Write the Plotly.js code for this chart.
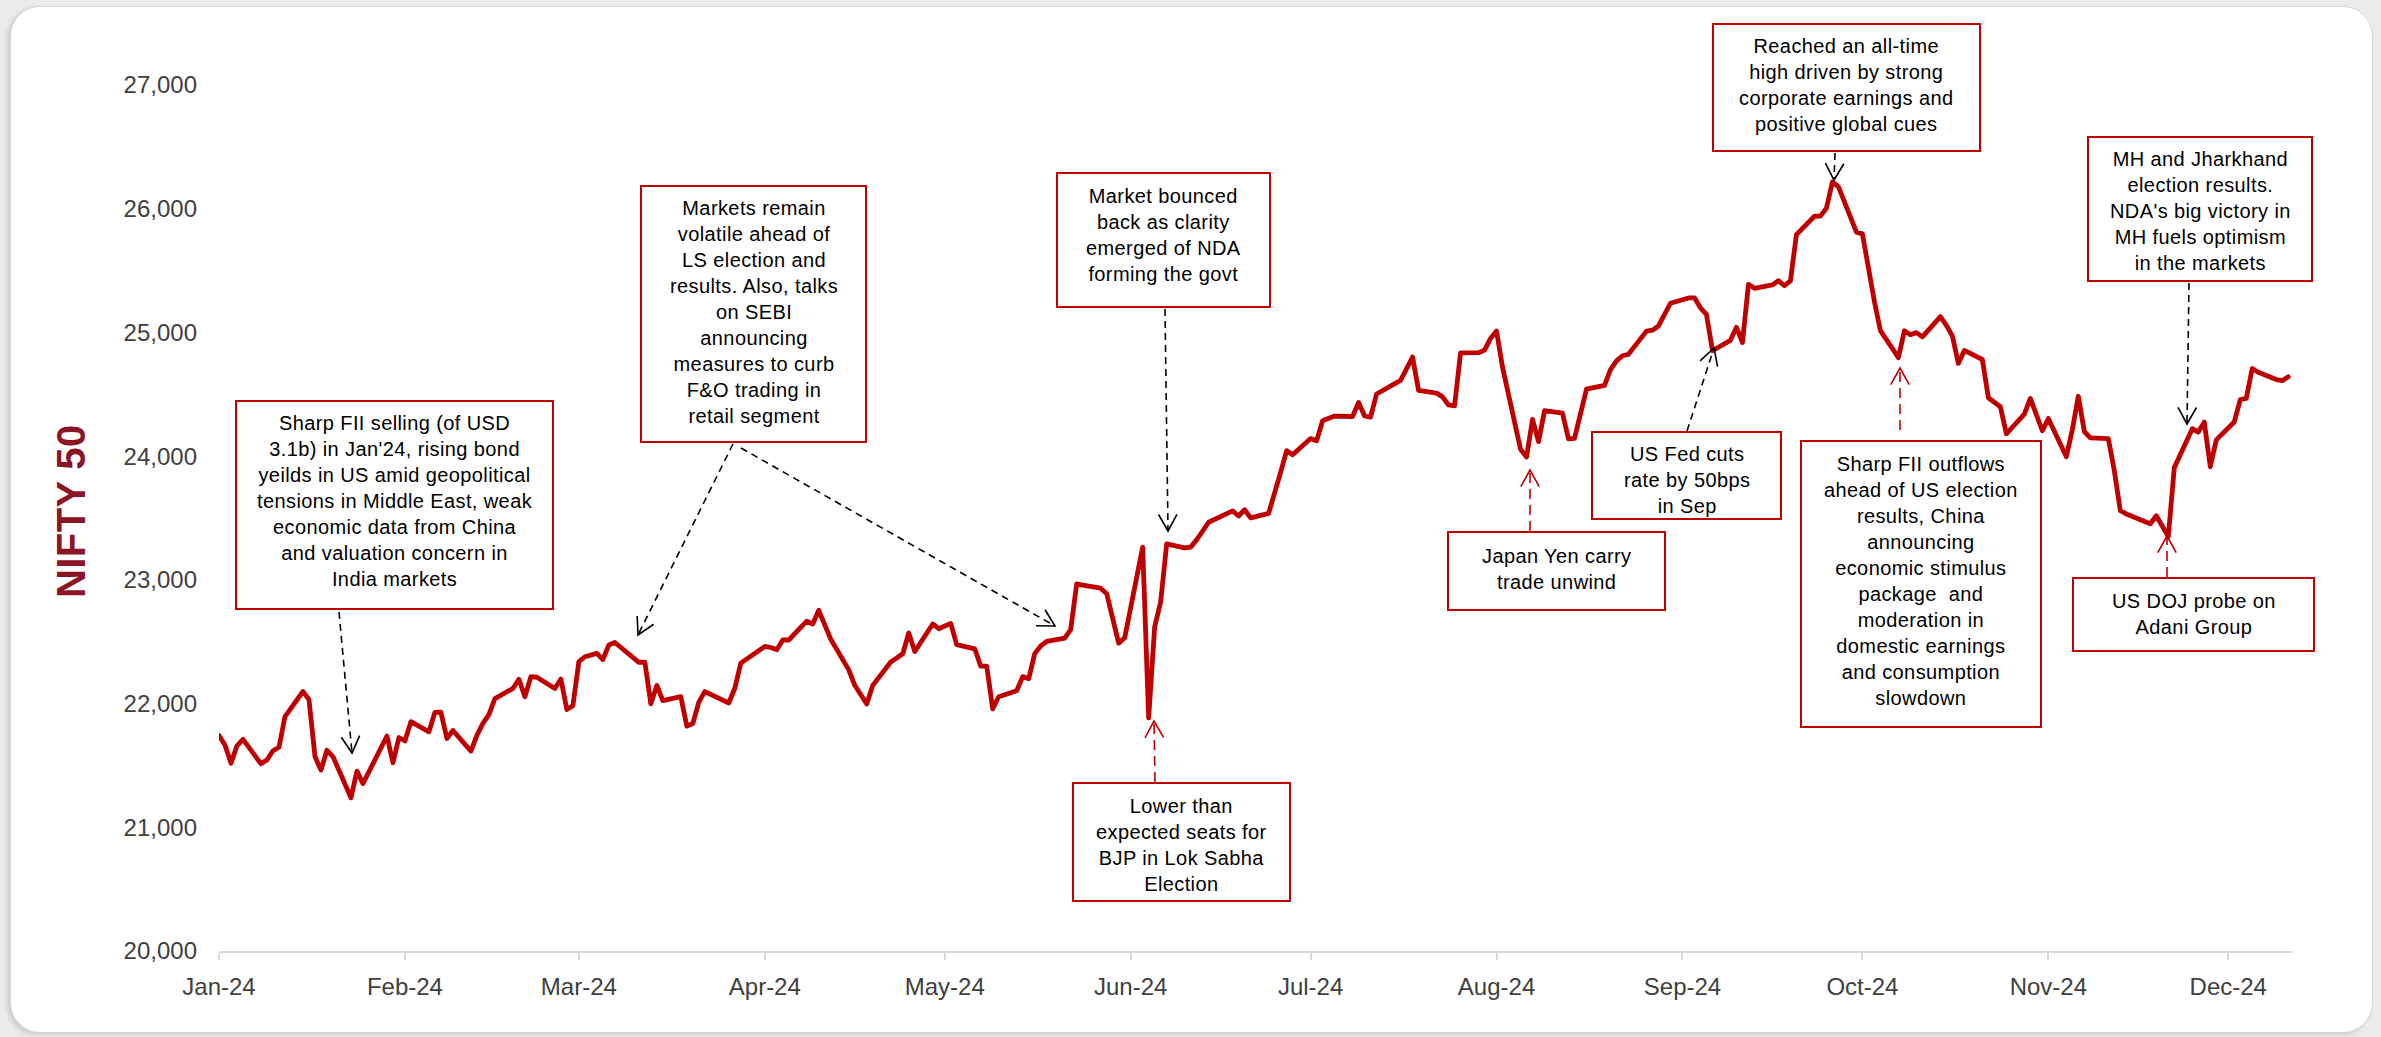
<!DOCTYPE html>
<html><head><meta charset="utf-8">
<script src="https://cdn.plot.ly/plotly-3.0.1.min.js"></script>
<style>
html,body{margin:0;padding:0;background:#ebebeb;width:2381px;height:1037px;overflow:hidden}
#card{position:absolute;left:10px;top:6px;width:2361px;height:1025px;background:#fff;border:1px solid #d6d6d6;border-radius:30px;box-shadow:-3px 2px 4px rgba(0,0,0,0.13)}
#chart{position:absolute;left:0;top:0;width:2381px;height:1037px}
path.js-line{stroke-linejoin:round;stroke-linecap:round}
.annotation-text{letter-spacing:0.4px}
</style></head><body>
<div id="card"></div><div id="chart"></div>
<script>
// ---- DATA: NIFTY 50 daily closes, 2024 ----
const janDays = [1,2,3,4,5,8,9,10,11,12,15,16,17,18,19,20,23,24,25,29,30,31];
const janClose = [21741.90,21665.80,21517.35,21658.60,21710.80,21513.00,21544.85,21618.70,21647.20,21894.55,22097.45,22032.30,21571.95,21462.25,21622.40,21571.80,21238.80,21453.95,21352.60,21737.60,21522.10,21725.70];
const febDays = [1,2,5,6,7,8,9,12,13,14,15,16,19,20,21,22,23,26,27,28,29];
const febClose = [21697.45,21853.80,21771.70,21929.40,21930.50,21717.95,21782.50,21616.05,21743.25,21840.05,21910.75,22040.70,22122.25,22196.95,22055.05,22217.45,22212.70,22122.05,22198.35,21951.15,21982.80];
const marDays = [1,2,4,5,6,7,11,12,13,14,15,18,19,20,21,22,26,27,28];
const marClose = [22338.75,22378.40,22405.60,22356.30,22474.05,22493.55,22332.65,22335.70,21997.70,22146.65,22023.35,22055.70,21817.45,21839.10,22011.95,22096.75,22004.70,22123.65,22326.90];
const aprDays = [1,2,3,4,5,8,9,10,12,15,16,18,19,22,23,24,25,26,29,30];
const aprClose = [22462.00,22453.30,22434.65,22514.65,22513.70,22666.30,22642.75,22753.80,22519.40,22272.50,22147.90,21995.85,22147.00,22336.40,22368.00,22402.40,22570.35,22419.95,22643.40,22604.85];
const mayDays = [2,3,6,7,8,9,10,13,14,15,16,17,18,21,22,23,24,27,28,29,30,31];
const mayClose = [22648.20,22475.85,22442.70,22302.50,22302.50,21957.50,22055.20,22104.05,22217.85,22200.55,22403.85,22466.10,22502.00,22529.05,22597.80,22967.65,22957.10,22932.45,22888.15,22704.70,22488.65,22530.70];
const junDays = [3,4,5,6,7,10,11,12,13,14,18,19,20,21,24,25,26,27,28];
const junClose = [23263.90,21884.50,22620.35,22821.40,23290.15,23259.20,23264.85,23322.95,23398.90,23465.60,23557.90,23516.00,23567.00,23501.10,23537.85,23721.30,23868.80,24044.50,24010.60];
const julDays = [1,2,3,4,5,8,9,10,11,12,15,16,18,19,22,23,24,25,26,29,30,31];
const julClose = [24141.95,24123.85,24286.50,24302.15,24323.85,24320.55,24433.20,24324.45,24315.95,24502.15,24586.70,24613.00,24800.85,24530.90,24509.25,24479.05,24413.50,24406.10,24834.85,24836.10,24857.30,24951.15];
const augDays = [1,2,5,6,7,8,9,12,13,14,16,19,20,21,22,23,26,27,28,29,30];
const augClose = [25010.90,24717.70,24055.60,23992.55,24297.50,24117.00,24367.50,24347.00,24139.00,24143.75,24541.15,24572.65,24698.85,24770.20,24811.50,24823.15,25010.60,25017.75,25052.35,25151.95,25235.90];
const sepDays = [2,3,4,5,6,9,10,11,12,13,16,17,18,19,20,23,24,25,26,27,30];
const sepClose = [25278.70,25279.85,25198.70,25145.10,24852.15,24936.40,25041.10,24918.45,25388.90,25356.50,25383.75,25418.55,25377.55,25415.80,25790.95,25939.05,25940.40,26004.15,26216.05,26178.95,25810.85];
const octDays = [1,3,4,7,8,9,10,11,14,15,16,17,18,21,22,23,24,25,28,29,30,31];
const octClose = [25796.90,25250.10,25014.60,24795.75,25013.15,24981.95,24998.45,24964.25,25127.95,25057.35,24971.30,24749.85,24854.05,24781.10,24472.10,24435.50,24399.40,24180.80,24339.15,24466.85,24340.85,24205.35];
const novDays = [1,4,5,6,7,8,11,12,13,14,18,19,21,22,25,26,27,28,29];
const novClose = [24304.35,23995.35,24213.30,24484.05,24199.35,24148.20,24141.30,23883.45,23559.05,23532.70,23453.80,23518.50,23349.90,23907.25,24221.90,24194.50,24274.90,23914.15,24131.10];
const decDays = [2,3,4,5,6,9,10,11];
const decClose = [24276.05,24457.15,24467.45,24708.40,24677.80,24619.00,24610.05,24641.80];

const yTickVals = [20000,21000,22000,23000,24000,25000,26000,27000];
const yTitle = 'NIFTY 50';

const noteTexts = [
  "Sharp FII selling (of USD<br>3.1b) in Jan'24, rising bond<br>yeilds in US amid geopolitical<br>tensions in Middle East, weak<br>economic data from China<br>and valuation concern in<br>India markets",
  "Markets remain<br>volatile ahead of<br>LS election and<br>results. Also, talks<br>on SEBI<br>announcing<br>measures to curb<br>F&amp;O trading in<br>retail segment",
  "Market bounced<br>back as clarity<br>emerged of NDA<br>forming the govt",
  "Lower than<br>expected seats for<br>BJP in Lok Sabha<br>Election",
  "Japan Yen carry<br>trade unwind",
  "US Fed cuts<br>rate by 50bps<br>in Sep",
  "Reached an all-time<br>high driven by strong<br>corporate earnings and<br>positive global cues",
  "Sharp FII outflows<br>ahead of US election<br>results, China<br>announcing<br>economic stimulus<br>package&nbsp; and<br>moderation in<br>domestic earnings<br>and consumption<br>slowdown",
  "MH and Jharkhand<br>election results.<br>NDA's big victory in<br>MH fuels optimism<br>in the markets",
  "US DOJ probe on<br>Adani Group"
];

// ---- build series ----
const monthLists = [[janDays,janClose],[febDays,febClose],[marDays,marClose],[aprDays,aprClose],[mayDays,mayClose],[junDays,junClose],[julDays,julClose],[augDays,augClose],[sepDays,sepClose],[octDays,octClose],[novDays,novClose],[decDays,decClose]];
const dates = [], closes = [];
monthLists.forEach(([d,c],m)=>{
  d.forEach((day,i)=>{
    dates.push('2024-'+String(m+1).padStart(2,'0')+'-'+String(day).padStart(2,'0'));
    closes.push(c[i]);
  });
});

// ---- layout geometry (pixels) ----
const L=219, T=85, W=2074, H=866;
const fx = p => (p-L)/W;
const fy = p => 1-(p-T)/H;
const RED='#C00000';
const FONT='Arial, "Liberation Sans", sans-serif';

// boxes: left, top, right, bottom, text centre y
const noteBoxes = [
  [236,401,553,609,501],
  [641,186,866,442,312],
  [1057,173,1270,307,235.5],
  [1073,783,1290,901,845],
  [1448,532,1665,610,569],
  [1592,432,1781,519,480],
  [1713,24,1980,151,85.5],
  [1801,441,2041,727,580.5],
  [2088,137,2312,281,210.5],
  [2073,578,2314,651,614]
];
// arrows: start x,y ; tip x,y ; colour
const noteArrows = [
  [339,612,352,753,'k'],
  [733,444,638,635,'k'],
  [741,448,1055,626,'k'],
  [1165,309,1168,531,'k'],
  [1155,782,1154,721,'r'],
  [1530,531,1530,470,'r'],
  [1687,431,1714,348,'k'],
  [1835,153,1834,180,'k'],
  [1900,430,1900,368,'r'],
  [2189,283,2187,424,'k'],
  [2167,577,2167,536,'r']
];

const shapes=[], annotations=[];
noteBoxes.forEach((b,i)=>{
  shapes.push({type:'rect',xref:'paper',yref:'paper',layer:'above',
    x0:fx(b[0]),x1:fx(b[2]),y0:fy(b[3]),y1:fy(b[1]),
    line:{color:RED,width:2},fillcolor:'#ffffff'});
  annotations.push({xref:'paper',yref:'paper',x:fx((b[0]+b[2])/2),y:fy(b[4]),
    xanchor:'center',yanchor:'middle',showarrow:false,align:'center',
    text:noteTexts[i],font:{family:FONT,size:20,color:'#000000'}});
});
noteArrows.forEach(a=>{
  const col = a[4]==='r'?RED:'#000000';
  const dash = a[4]==='r'?'10px,6px':'7px,5px';
  shapes.push({type:'line',xref:'paper',yref:'paper',layer:'above',
    x0:fx(a[0]),y0:fy(a[1]),x1:fx(a[2]),y1:fy(a[3]),
    line:{color:col,width:1.6,dash:dash}});
  const dx=a[2]-a[0], dy=a[3]-a[1], n=Math.hypot(dx,dy), ux=dx/n, uy=dy/n;
  const len=19, ang=29*Math.PI/180;
  const pts=[-ang,ang].map(t=>{
    const rx=ux*Math.cos(t)-uy*Math.sin(t), ry=ux*Math.sin(t)+uy*Math.cos(t);
    return [a[2]-len*rx, a[3]-len*ry];
  });
  shapes.push({type:'path',xref:'paper',yref:'paper',layer:'above',
    path:`M ${fx(pts[0][0])} ${fy(pts[0][1])} L ${fx(a[2])} ${fy(a[3])} L ${fx(pts[1][0])} ${fy(pts[1][1])}`,
    line:{color:col,width:1.6}});
});
annotations.push({xref:'paper',yref:'paper',x:fx(70.5),y:fy(511.5),xanchor:'center',yanchor:'middle',
  showarrow:false,textangle:-90,text:'<b>'+yTitle+'</b>',font:{family:FONT,size:40,color:'#8B1426'}});

const trace={type:'scatter',mode:'lines',x:dates,y:closes,
  line:{color:RED,width:4.8},hoverinfo:'skip'};

const layout={
  width:2381,height:1037,
  margin:{l:L,r:2381-L-W,t:T,b:1037-T-H,pad:0},
  paper_bgcolor:'rgba(0,0,0,0)',plot_bgcolor:'rgba(0,0,0,0)',
  showlegend:false,
  xaxis:{type:'date',range:['2024-01-01','2024-12-11 19:00'],dtick:'M1',tick0:'2024-01-01',
    tickformat:'%b-%y',ticks:'outside',ticklen:7,tickwidth:2,tickcolor:'#d9d9d9',
    showline:true,linecolor:'#d9d9d9',linewidth:2,showgrid:false,zeroline:false,
    tickfont:{family:FONT,size:24,color:'#404040'},ticklabelstandoff:6,fixedrange:true},
  yaxis:{range:[20000,27000],tickvals:yTickVals,tickformat:',d',ticks:'',showline:false,
    showgrid:false,zeroline:false,tickfont:{family:FONT,size:24,color:'#404040'},
    ticklabelstandoff:21,fixedrange:true},
  shapes:shapes,annotations:annotations
};
Plotly.newPlot('chart',[trace],layout,{displayModeBar:false,staticPlot:true});
</script></body></html>
